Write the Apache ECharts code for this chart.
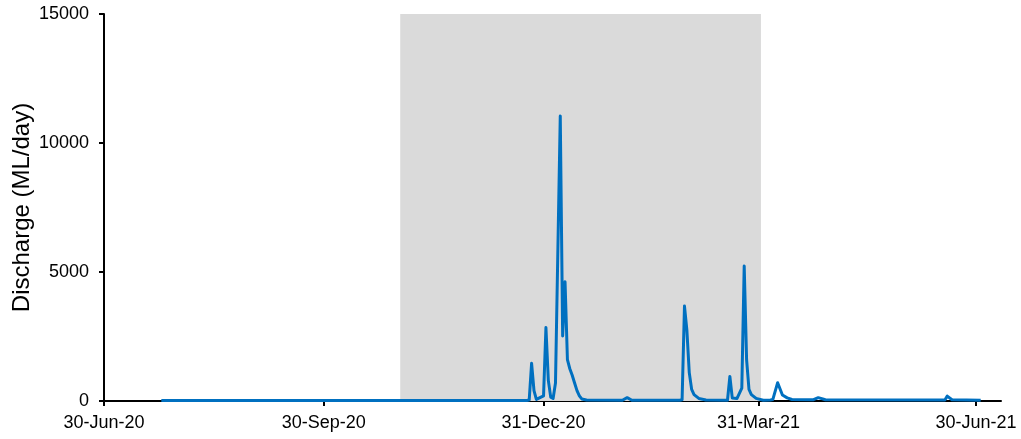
<!DOCTYPE html>
<html>
<head>
<meta charset="utf-8">
<script src="https://cdn.jsdelivr.net/npm/echarts@6/dist/echarts.min.js"></script>
<style>
  html, body { margin: 0; padding: 0; background: #fff; }
  #chart { width: 1021px; height: 439px; }
</style>
</head>
<body>
<div id="chart"></div>
<script>
// daily discharge, key days (ML/day)
const dates = [
  '2020-07-24', '2020-12-24', '2020-12-25', '2020-12-26', '2020-12-27', '2020-12-28',
  '2020-12-31', '2021-01-01', '2021-01-02', '2021-01-03', '2021-01-04', '2021-01-05',
  '2021-01-07', '2021-01-08', '2021-01-09', '2021-01-10', '2021-01-11', '2021-01-12',
  '2021-01-13', '2021-01-14', '2021-01-15', '2021-01-16', '2021-01-18', '2021-02-02',
  '2021-02-04', '2021-02-06', '2021-02-26', '2021-02-27', '2021-02-28', '2021-03-01',
  '2021-03-02', '2021-03-03', '2021-03-04', '2021-03-06', '2021-03-09', '2021-03-18',
  '2021-03-19', '2021-03-20', '2021-03-22', '2021-03-24', '2021-03-25', '2021-03-26',
  '2021-03-27', '2021-03-28', '2021-03-30', '2021-04-02', '2021-04-05', '2021-04-06',
  '2021-04-08', '2021-04-10', '2021-04-12', '2021-04-14', '2021-04-23', '2021-04-25',
  '2021-04-28', '2021-06-17', '2021-06-18', '2021-06-20', '2021-07-02'
];
const discharge = [
  20, 20, 40, 1460, 400, 60,
  200, 2850, 800, 150, 100, 700,
  11050, 2520, 4620, 1600, 1250, 1000,
  700, 400, 200, 80, 40, 30,
  130, 30, 30, 50, 3680, 2750,
  1100, 450, 250, 100, 40, 30,
  950, 120, 100, 500, 5230, 1600,
  450, 250, 100, 30, 40, 60,
  710, 230, 120, 60, 50, 130,
  50, 40, 190, 50, 30
];

// shaded period
const shadeStart = '2020-11-01';
const shadeEnd = '2021-04-01';

// x axis ticks
const tickDates = ['2020-06-30', '2020-09-30', '2020-12-31', '2021-03-31', '2021-06-30'];
const tickLabels = ['30-Jun-20', '30-Sep-20', '31-Dec-20', '31-Mar-21', '30-Jun-21'];
const axisStart = '2020-06-30';
const axisEnd = '2021-07-10';

// y axis
const yTicks = [0, 5000, 10000, 15000];

// days since the axis start
function day(s) {
  const p = s.split('-').map(Number);
  const q = axisStart.split('-').map(Number);
  return Math.round((Date.UTC(p[0], p[1] - 1, p[2]) - Date.UTC(q[0], q[1] - 1, q[2])) / 86400000);
}

const tickDays = tickDates.map(day);
const labelOf = {};
tickDays.forEach((t, i) => { labelOf[t] = tickLabels[i]; });

const chart = echarts.init(document.getElementById('chart'));

const font = 'Liberation Sans, Arial, sans-serif';

const option = {
  animation: false,
  backgroundColor: '#fff',
  textStyle: { fontFamily: font },
  grid: { left: 104, right: 20, top: 14, bottom: 38, containLabel: false, outerBoundsMode: 'none' },
  xAxis: {
    type: 'value',
    min: 0,
    max: day(axisEnd) + 0.5,
    axisLine: { show: true, onZero: false, lineStyle: { color: '#000', width: 2 } },
    axisTick: {
      show: true, length: 5, inside: false,
      customValues: tickDays,
      lineStyle: { color: '#000', width: 2 }
    },
    axisLabel: {
      customValues: tickDays,
      margin: 13,
      fontSize: 18,
      color: '#000',
      fontFamily: font,
      formatter: (v) => labelOf[Math.round(v)] || ''
    },
    splitLine: { show: false }
  },
  yAxis: {
    type: 'value',
    min: yTicks[0],
    max: yTicks[yTicks.length - 1],
    interval: 5000,
    name: 'Discharge (ML/day)',
    nameLocation: 'middle',
    nameGap: 70,
    nameMoveOverlap: false,
    nameTextStyle: { fontSize: 24, color: '#000', fontFamily: font },
    axisLine: { show: true, lineStyle: { color: '#000', width: 2 } },
    axisTick: { show: true, length: 5, inside: false, lineStyle: { color: '#000', width: 2 } },
    axisLabel: { margin: 15, fontSize: 18, color: '#000', fontFamily: font, formatter: (v) => String(v) },
    splitLine: { show: false }
  },
  series: [
    {
      type: 'line',
      data: dates.map((d, i) => [day(d), discharge[i]]),
      showSymbol: false,
      symbol: 'none',
      lineStyle: { color: '#0070C0', width: 3, join: 'round' },
      z: 5,
      markArea: {
        silent: true,
        itemStyle: { color: '#dadada' },
        data: [[{ xAxis: day(shadeStart) }, { xAxis: day(shadeEnd) }]]
      }
    }
  ]
};

chart.setOption(option);
</script>
</body>
</html>
